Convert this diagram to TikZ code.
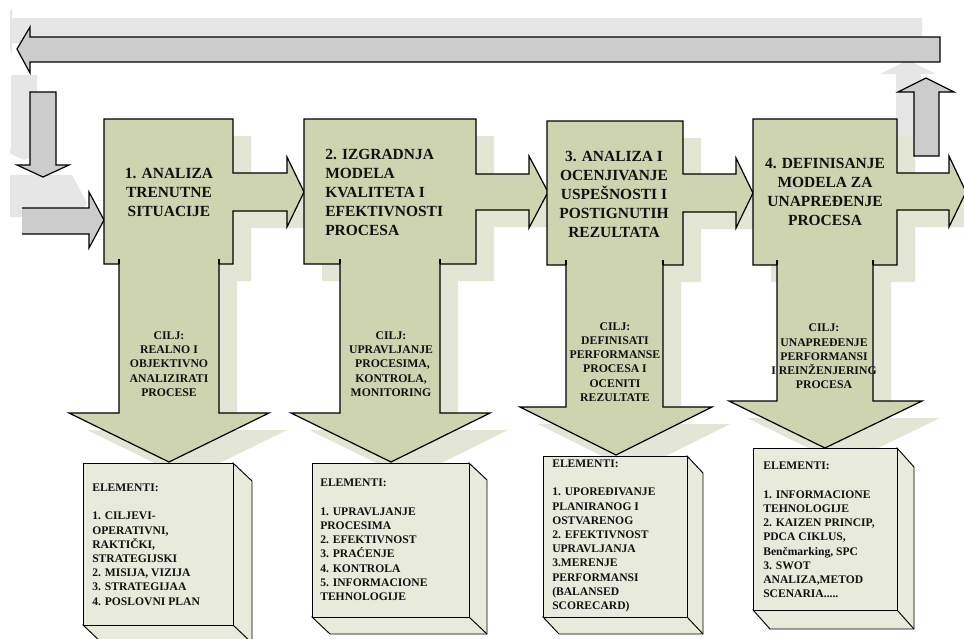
\documentclass[tikz,border=0pt]{standalone}
\usepackage{fontspec}
\setmainfont{Liberation Serif}[BoldFont={Liberation Serif Bold}]
\definecolor{blockc}{HTML}{CED4B0}
\definecolor{shadowc}{HTML}{E3E6D4}
\definecolor{grayc}{HTML}{CCCCCC}
\definecolor{grayshc}{HTML}{E6E6E6}
\definecolor{boxc}{HTML}{E8EADC}
\definecolor{textc}{HTML}{111111}
\newcommand\elemcube[6]{%
  \filldraw[elbox] (#3,#2) -- (#3+#5,#2+#6) -- (#3+#5,#4+#6) -- (#1+#5,#4+#6) -- (#1,#4) -- (#3,#4) -- cycle;
  \draw[elbox] (#3,#4) -- (#3+#5,#4+#6);
  \filldraw[elbox] (#1,#2) rectangle (#3,#4);
}
\begin{document}
\begin{tikzpicture}[x=0.75pt,y=-0.75pt,
  blk/.style={fill=blockc, draw=black, line width=0.9pt, line join=miter},
  blkshadow/.style={fill=shadowc},
  grayarrow/.style={fill=grayc, draw=black, line width=0.9pt},
  grayshadow/.style={fill=grayshc},
  elbox/.style={fill=boxc, draw=black, line width=0.7pt},
  title/.style={font=\fontsize{11.6}{14.25}\selectfont\bfseries, align=center, inner sep=0pt, text=textc},
  goal/.style={font=\fontsize{8.8}{10.65}\selectfont\bfseries, align=center, inner sep=0pt, text=textc},
  elem/.style={font=\fontsize{8.7}{10.65}\selectfont\bfseries, align=left, inner sep=0pt, anchor=west, text=textc}]

\useasboundingbox (0,0) rectangle (964,639);
\clip (0,0) rectangle (964,639);

\def\pathA{(104,119) -- (233,119) -- (233,173) -- (287,173) -- (287,157) -- (304,192) -- (287,227) -- (287,211) -- (233,211) -- (233,264) -- (219,264) -- (219,413) -- (269,413) -- (169,462) -- (69,413) -- (119,413) -- (119,264) -- (104,264) -- cycle}
\def\pathB{(304,119) -- (476,119) -- (476,174) -- (529,174) -- (529,156) -- (548,192) -- (529,228) -- (529,210) -- (476,210) -- (476,264) -- (440,264) -- (440,413) -- (490,413) -- (391,462) -- (291,413) -- (340,413) -- (340,264) -- (304,264) -- cycle}
\def\pathC{(547,121) -- (683,121) -- (683,174) -- (736,174) -- (736,158) -- (753,193) -- (736,228) -- (736,212) -- (683,212) -- (683,265) -- (663,265) -- (663,407) -- (712,407) -- (616,455) -- (520,407) -- (566,407) -- (566,265) -- (547,265) -- cycle}
\def\pathD{(753,119) -- (897,119) -- (897,173) -- (949,173) -- (949,156) -- (966,192) -- (949,227) -- (949,210) -- (897,210) -- (897,265) -- (873,265) -- (873,401) -- (922,401) -- (825,448) -- (729,401) -- (777,401) -- (777,265) -- (753,265) -- cycle}
\def\pathTop{(17,49) -- (30,27) -- (30,37) -- (940,37) -- (940,62) -- (30,62) -- (30,73) -- cycle}
\def\pathUp{(926,78) -- (954,92) -- (939,92) -- (939,156) -- (914,156) -- (914,92) -- (898,92) -- cycle}
\def\pathDown{(30,92) -- (56,92) -- (56,165) -- (69,165) -- (43,177) -- (17,165) -- (30,165) -- cycle}

% gray shadows (cut at the left margin)
\begin{scope}
  \clip (10,0) rectangle (964,639);
  \begin{scope}[shift={(-18,-19)}] \fill[grayshadow] \pathTop; \end{scope}
  \begin{scope}[shift={(-19,-17)}] \fill[grayshadow] \pathDown; \end{scope}
  \fill[grayshadow] (10,175) -- (72,175) -- (87,203) -- (72,231) -- (72,217) -- (10,217) -- cycle;
\end{scope}
\begin{scope}[shift={(-18,-18)}] \fill[grayshadow] \pathUp; \end{scope}

% green shadows
\begin{scope}[shift={(18,17)}]
  \fill[blkshadow] \pathA;
  \fill[blkshadow] \pathB;
  \fill[blkshadow] \pathC;
  \fill[blkshadow] \pathD;
\end{scope}

% gray arrows
\filldraw[grayarrow] \pathTop;
\filldraw[grayarrow] \pathUp;
\filldraw[grayarrow] \pathDown;
\fill[grayc] (22,208) -- (89,208) -- (89,192) -- (104,220) -- (89,248) -- (89,234) -- (22,234) -- cycle;
\draw[grayarrow, fill=none] (22,208) -- (89,208) -- (89,192) -- (104,220) -- (89,248) -- (89,234) -- (22,234);

% process blocks
\filldraw[blk] \pathA;
\filldraw[blk] \pathB;
\filldraw[blk] \pathC;
\filldraw[blk] \pathD;
\draw[line width=0.9pt] (119,264) -- (119,259) (219,264) -- (219,259)
  (340,264) -- (340,259) (440,264) -- (440,259)
  (566,265) -- (566,260) (663,265) -- (663,260)
  (777,265) -- (777,260) (873,265) -- (873,260);

% element boxes
\elemcube{83}{463}{233}{625}{19}{18}
\elemcube{312}{463}{469}{617}{18}{17}
\elemcube{543}{456}{687}{617}{16}{17}
\elemcube{753}{448}{897}{610}{17}{19}

% titles
\node[title] (t1) at (169,192) {1. ANALIZA\\TRENUTNE\\SITUACIJE};
\node[title, align=left, anchor=west] (t2) at (325,192) {2. IZGRADNJA\\MODELA\\KVALITETA I\\EFEKTIVNOSTI\\PROCESA};
\node[title] (t3) at (614,194) {3. ANALIZA I\\OCENJIVANJE\\USPEŠNOSTI I\\POSTIGNUTIH\\REZULTATA};
\node[title] (t4) at (825,191.5) {4. DEFINISANJE\\MODELA ZA\\UNAPREĐENJE\\PROCESA};

% goals
\node[goal] (g1) at (169,364) {CILJ:\\REALNO I\\OBJEKTIVNO\\ANALIZIRATI\\PROCESE};
\node[goal] (g2) at (391,364) {CILJ:\\UPRAVLJANJE\\~PROCESIMA,\\KONTROLA,\\MONITORING};
\node[goal] (g3) at (615,362) {CILJ:\\DEFINISATI\\PERFORMANSE\\PROCESA I\\OCENITI\\REZULTATE};
\node[goal] (g4) at (824,356.5) {CILJ:\\UNAPREĐENJE\\PERFORMANSI\\I REINŽENJERING\\PROCESA};

% elements
\node[elem] (e1) at (92,544.5) {ELEMENTI:\\[10.65pt]1. CILJEVI-\\OPERATIVNI,\\RAKTIČKI,\\STRATEGIJSKI\\2. MISIJA, VIZIJA\\3. STRATEGIJAA\\4. POSLOVNI PLAN};
\node[elem] (e2) at (320,540) {ELEMENTI:\\[10.65pt]1. UPRAVLJANJE\\PROCESIMA\\2. EFEKTIVNOST\\3. PRAĆENJE\\4. KONTROLA\\5. INFORMACIONE\\TEHNOLOGIJE};
\node[elem] (e3) at (552,536) {ELEMENTI:\\[10.65pt]1. UPOREĐIVANJE\\PLANIRANOG I\\OSTVARENOG\\2. EFEKTIVNOST\\UPRAVLJANJA\\3.MERENJE\\PERFORMANSI\\(BALANSED\\SCORECARD)};
\node[elem] (e4) at (763,530) {ELEMENTI:\\[10.65pt]1. INFORMACIONE\\TEHNOLOGIJE\\2. KAIZEN PRINCIP,\\PDCA CIKLUS,\\Benčmarking, SPC\\3. SWOT\\ANALIZA,METOD\\SCENARIA.....};
\end{tikzpicture}
\end{document}
